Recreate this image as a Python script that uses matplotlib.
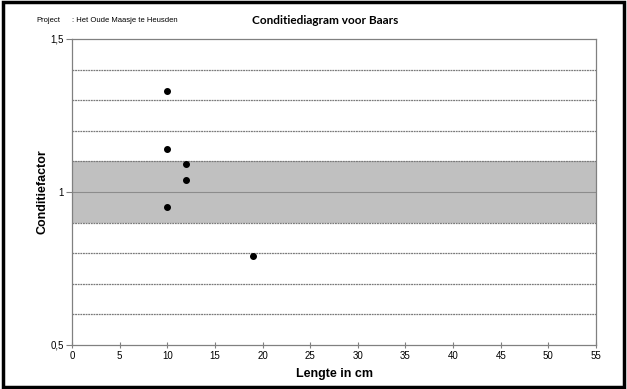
import matplotlib.pyplot as plt
from matplotlib.patches import Rectangle

# data
lengte = [10, 10, 12, 12, 10, 19]
factor = [1.33, 1.14, 1.09, 1.04, 0.95, 0.79]

band_lo, band_hi = 0.9, 1.1
grid_y = [0.6, 0.7, 0.8, 0.9, 1.0, 1.1, 1.2, 1.3, 1.4]
x_ticks = list(range(0, 56, 5))
y_ticks = [0.5, 1.0, 1.5]
y_ticklabels = ['0,5', '1', '1,5']

plt.rcParams['font.family'] = ['Liberation Sans', 'DejaVu Sans']

fig = plt.figure(figsize=(6.27, 3.89), dpi=100)
ax = fig.add_axes([72/627, 44/389, 524/627, 306/389])

ax.axhspan(band_lo, band_hi, color='#c0c0c0', zorder=0, lw=0)
for y in grid_y:
    if y == 1.0:
        ax.axhline(y, color='#8c8c8c', lw=0.8, zorder=1)
    else:
        ax.axhline(y, color='#7a7a7a', lw=0.9, ls=(0, (1.5, 0.6)), zorder=1)

ax.scatter(lengte, factor, s=16, color='black', zorder=3)

ax.set_xlim(0, 55)
ax.set_ylim(0.5, 1.5)
ax.set_xticks(x_ticks)
ax.set_yticks(y_ticks)
ax.set_yticklabels(y_ticklabels)
ax.tick_params(axis='both', labelsize=7, color='#808080', width=0.8)
ax.tick_params(axis='x', direction='inout', length=5, pad=2)
ax.tick_params(axis='y', direction='out', length=4, pad=2)
for s in ax.spines.values():
    s.set_color('#808080')
    s.set_linewidth(0.9)

ax.set_xlabel('Lengte in cm', fontsize=9, fontweight='bold', labelpad=5)
ax.set_ylabel('Conditiefactor', fontsize=9, fontweight='bold', labelpad=1)

fig.text(325/627, 1 - 20/389, 'Conditiediagram voor Baars', ha='center', va='center',
         fontsize=8.5, fontweight='bold', family=['Lato', 'DejaVu Sans'])
fig.text(36/627, 1 - 20/389, 'Project', ha='left', va='center', fontsize=5.5)
fig.text(72/627, 1 - 20/389, ': Het Oude Maasje te Heusden', ha='left', va='center', fontsize=5.5)

# outer black frame
fig.patches.append(Rectangle((0.004, 0.005), 0.992, 0.99, transform=fig.transFigure,
                             fill=False, edgecolor='black', lw=2.5))

fig.savefig('out.png', dpi=100)
